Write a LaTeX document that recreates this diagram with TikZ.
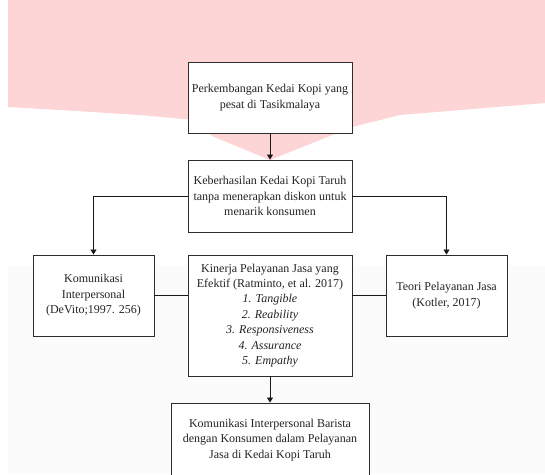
\documentclass[tikz,border=0pt]{standalone}
\usepackage{fontspec}
\setmainfont{Liberation Serif}
\usetikzlibrary{arrows.meta}
\definecolor{wmpink}{RGB}{253,213,215}
\definecolor{wmgrey}{RGB}{251,251,251}
\definecolor{boxline}{RGB}{45,45,45}
\definecolor{txt}{RGB}{35,35,35}
\tikzset{
  box/.style={draw=boxline, line width=0.9pt, fill=white, align=center, inner sep=2pt,
    font=\fontsize{12}{15.4}\selectfont, text=txt},
  conn/.style={line width=0.8pt, draw=black!90},
  arr/.style={conn, -{Triangle[width=6pt,length=5pt]}}
}
\begin{document}
\begin{tikzpicture}[x=1pt,y=-1pt]
\useasboundingbox (0,0) rectangle (545,474);
\fill[white] (0,0) rectangle (545,474);
% watermark
\fill[wmgrey] (8,265) rectangle (545,474);
\fill[wmpink] (8,0) -- (545,0) -- (545,103) -- (460,110) -- (400,115) -- (352,127)
  -- (330,136) -- (270,160) -- (212,136) -- (195,120) -- (140,115) -- (60,110) -- (8,107) -- cycle;
% nodes
\node[box, minimum width=164pt, minimum height=71pt] (n1) at (270,97.5)
  {Perkembangan Kedai Kopi yang\\pesat di Tasikmalaya};
\node[box, minimum width=164pt, minimum height=72pt] (n2) at (270,196)
  {Keberhasilan Kedai Kopi Taruh\\tanpa menerapkan diskon untuk\\menarik konsumen};
\node[box, minimum width=121pt, minimum height=81pt] (n3) at (93.5,295.5)
  {Komunikasi\\Interpersonal\\(DeVito;1997. 256)};
\node[box, minimum width=164pt, minimum height=121pt] (n4) at (270,315.5)
  {Kinerja Pelayanan Jasa yang\\Efektif (Ratminto, et al. 2017)\\\textit{1. Tangible}\\\textit{2. Reability}\\\textit{3. Responsiveness}\\\textit{4. Assurance}\\\textit{5. Empathy}};
\node[box, minimum width=121pt, minimum height=81pt] (n5) at (446.5,295.5)
  {Teori Pelayanan Jasa\\(Kotler, 2017)};
\node[box, minimum width=198pt, minimum height=74pt] (n6) at (270,440)
  {Komunikasi Interpersonal Barista\\dengan Konsumen dalam Pelayanan\\Jasa di Kedai Kopi Taruh};
% connectors
\draw[arr] (n1.south) -- (n2.north);
\draw[arr] (n2.west) -| (n3.north);
\draw[arr] (n2.east) -| (n5.north);
\draw[conn] (n3.east) -- (n3.east -| n4.west);
\draw[conn] (n5.west -| n4.east) -- (n5.west);
\draw[arr] (n4.south) -- (n6.north);
\end{tikzpicture}
\end{document}
